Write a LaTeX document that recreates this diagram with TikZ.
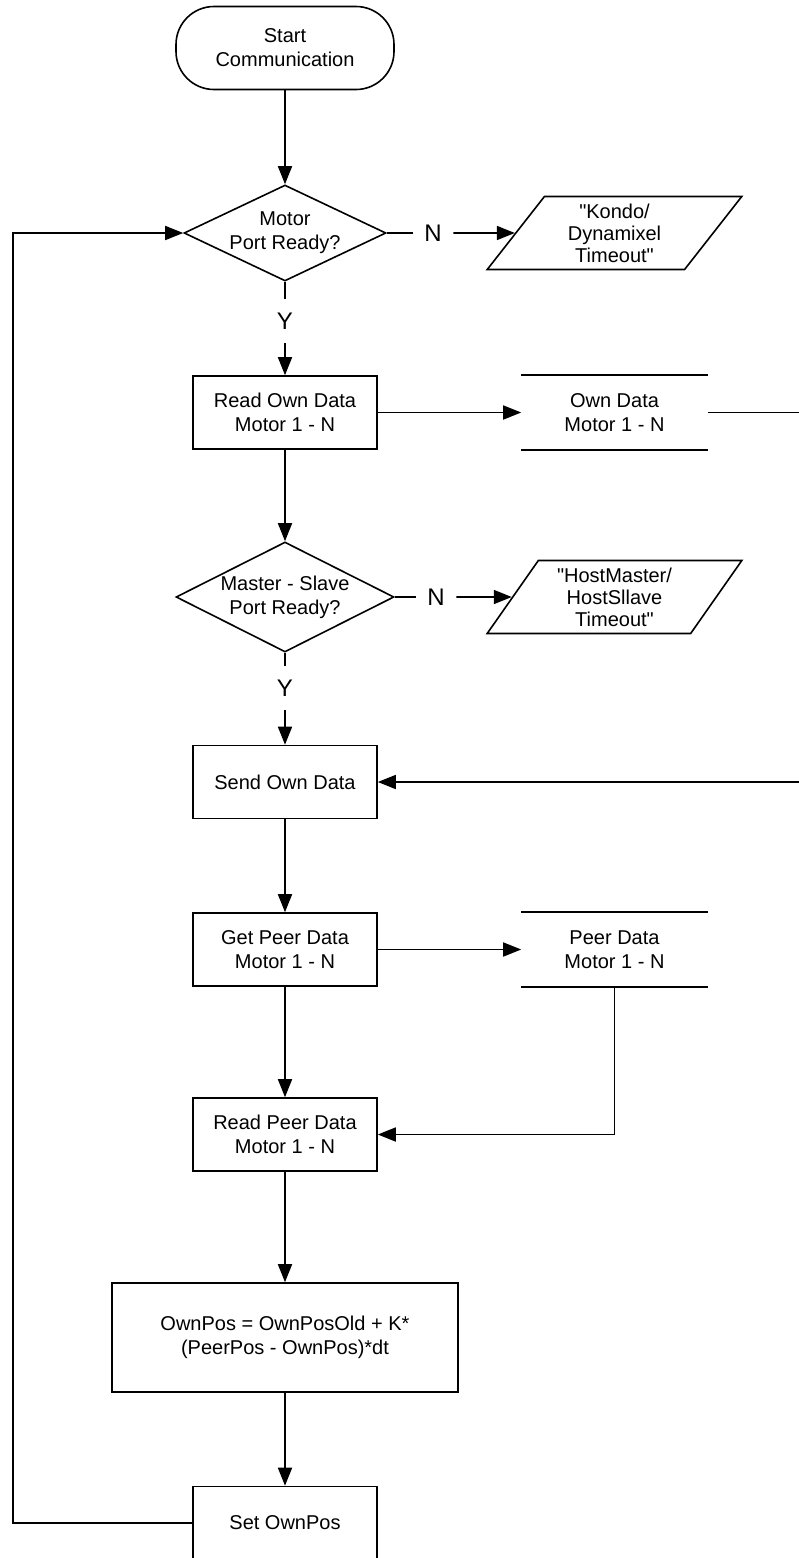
\documentclass[tikz,border=0pt]{standalone}
\usepackage{fontspec}
\setmainfont{Liberation Sans}
\usetikzlibrary{arrows.meta,shapes.geometric,positioning}

\begin{document}
\begin{tikzpicture}[x=1pt,y=-1pt]
\tikzstyle{every node}=[font=\fontsize{20}{24}\selectfont,align=center,line width=1.6pt]
\tikzstyle{startstop}=[rectangle,draw,rounded corners=38pt,minimum width=218pt,minimum height=83pt]
\tikzstyle{process}=[rectangle,draw,minimum width=184pt,minimum height=73pt]
\tikzstyle{decision}=[diamond,draw,inner sep=0pt]
\tikzstyle{io}=[trapezium,draw,trapezium left angle=58,trapezium right angle=122,trapezium stretches=true,minimum width=255pt,minimum height=73pt,font=\fontsize{20}{22}\selectfont]
\tikzstyle{store}=[rectangle,minimum width=185pt,minimum height=73pt]
\tikzstyle{yn}=[inner xsep=11pt,inner ysep=13pt,font=\fontsize{24}{28}\selectfont]
\tikzstyle{wire}=[line width=1.7pt]
\tikzstyle{flow}=[wire,-{Triangle[length=18pt,width=14pt]}]

\useasboundingbox (0,0) rectangle (798,1558);

% main column
\node[startstop] (start) at (285,48) {Start\\Communication};
\node[decision,aspect=2.1,minimum width=202pt,minimum height=96pt] (d1) at (285,233) {Motor\\Port Ready?};
\node[yn] (y1) at (285,321) {Y};
\node[process] (rod) at (285,412.5) {Read Own Data\\Motor 1 - N};
\node[decision,aspect=2,minimum width=218pt,minimum height=110pt] (d2) at (285,597) {Master - Slave\\Port Ready?};
\node[yn] (y2) at (285,688) {Y};
\node[process] (sod) at (285,782) {Send Own Data};
\node[process] (gpd) at (285,949.5) {Get Peer Data\\Motor 1 - N};
\node[process] (rpd) at (285,1134.5) {Read Peer Data\\Motor 1 - N};
\node[process,minimum width=346pt,minimum height=109pt] (own) at (285,1337.5) {OwnPos = OwnPosOld + K*\\(PeerPos - OwnPos)*dt};
\node[process] (set) at (285,1523) {Set OwnPos};

% side column
\node[yn] (n1) at (433,233) {N};
\node[io] (p1) at (614.5,233) {\textquotedbl Kondo/\\Dynamixel\\Timeout\textquotedbl};
\node[store] (od) at (614.5,412.5) {Own Data\\Motor 1 - N};
\node[yn] (n2) at (436,597) {N};
\node[io] (p2) at (614.5,597) {\textquotedbl HostMaster/\\HostSllave\\Timeout\textquotedbl};
\node[store] (pd) at (614.5,949.5) {Peer Data\\Motor 1 - N};

\coordinate (rim) at (830,0);
\coordinate (back) at (13,0);

\foreach \s in {od,pd}
  \draw[wire] (\s.north west) -- (\s.north east) (\s.south west) -- (\s.south east);

\draw[flow] (start) -- (d1);
\draw[wire] (d1) -- (n1);
\draw[flow] (n1) -- (p1);
\draw[wire] (d1) -- (y1);
\draw[flow] (y1) -- (rod);
\draw[flow] (rod) -- (od);
\draw[flow] (rod) -- (d2);
\draw[wire] (d2) -- (n2);
\draw[flow] (n2) -- (p2);
\draw[wire] (d2) -- (y2);
\draw[flow] (y2) -- (sod);
\draw[flow] (od.east) -- (od.east -| rim) |- (sod.east);
\draw[flow] (sod) -- (gpd);
\draw[flow] (gpd) -- (pd);
\draw[flow] (pd.south) |- (rpd.east);
\draw[flow] (gpd) -- (rpd);
\draw[flow] (rpd) -- (own);
\draw[flow] (own) -- (set);
\draw[flow] (set.west) -- (set.west -| back) |- (d1.west);
\end{tikzpicture}
\end{document}
